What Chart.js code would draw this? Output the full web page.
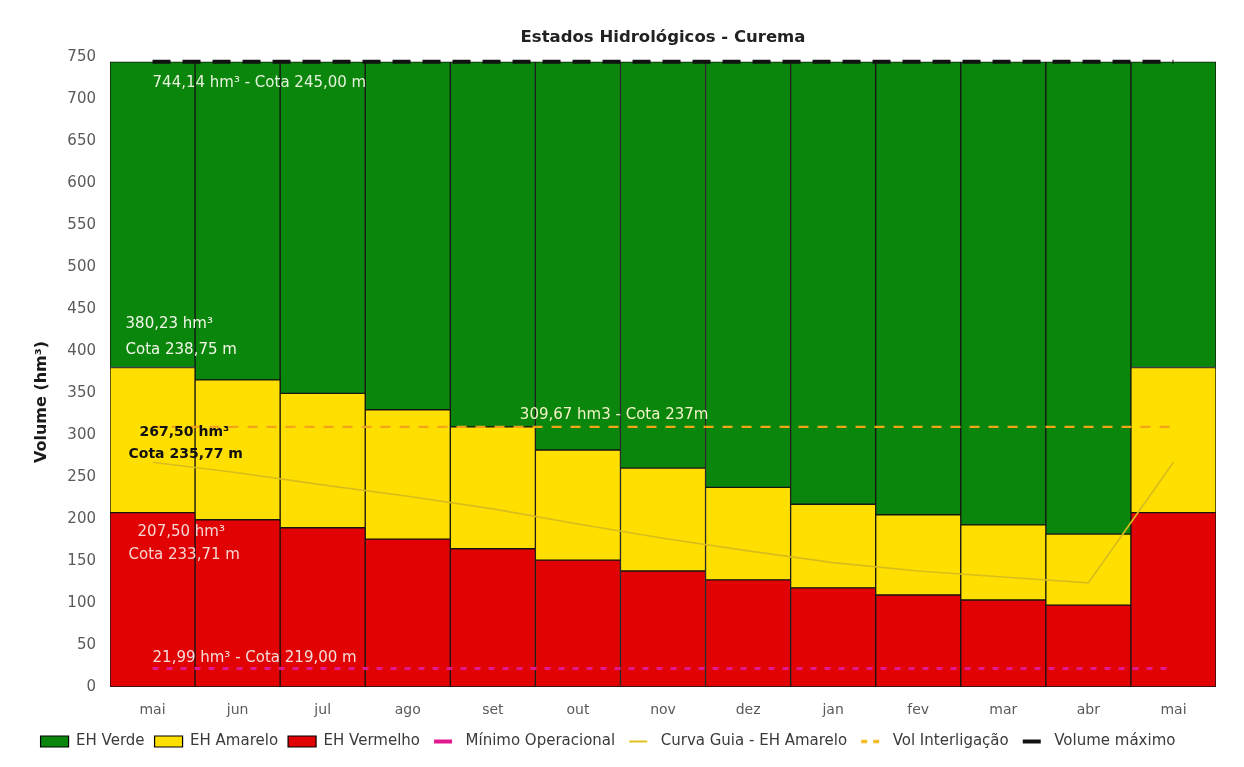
<!DOCTYPE html>
<html><head><meta charset="utf-8">
<script src="https://cdn.jsdelivr.net/npm/chart.js@4.4.1/dist/chart.umd.min.js"></script>
<style>html,body{margin:0;padding:0;background:#fff;} #wrap{width:1244px;height:767px;position:relative;}</style>
</head><body><div id="wrap"><canvas id="c"></canvas></div>
<script>
// ---- data ----
const meses = ['mai','jun','jul','ago','set','out','nov','dez','jan','fev','mar','abr','mai'];
const limiteVermelho = [207.5, 199, 189.5, 176, 164.5, 151, 138, 127.5, 118, 109.5, 103.5, 97.5, 207.5];
const limiteAmarelo  = [380.23, 365.5, 349.5, 330, 309.5, 282, 260.5, 237.5, 217.5, 205, 193, 182, 380.23];
const volumeMaximo   = [744.14, 744.14, 744.14, 744.14, 744.14, 744.14, 744.14, 744.14, 744.14, 744.14, 744.14, 744.14, 744.14];
const minimoOperacional = [21.99, 21.99, 21.99, 21.99, 21.99, 21.99, 21.99, 21.99, 21.99, 21.99, 21.99, 21.99, 21.99];
const curvaGuia      = [267.5, 255, 240.5, 227, 212, 194, 177, 162, 148, 138, 131, 124, 267.5];
const volInterligacao = [309.67, 309.67, 309.67, 309.67, 309.67, 309.67, 309.67, 309.67, 309.67, 309.67, 309.67, 309.67, 309.67];
const yMin = 0, yMax = 750, yStep = 50;
const legendOrder = ['EH Verde','EH Amarelo','EH Vermelho','Mínimo Operacional','Curva Guia - EH Amarelo','Vol Interligação','Volume máximo'];
// annotation texts: [text, anchor value]
const notas = [
  ['744,14 hm³ - Cota 245,00 m', 744.14],
  ['380,23 hm³', 380.23],
  ['Cota 238,75 m', 380.23],
  ['309,67 hm3 - Cota 237m', 309.67],
  ['267,50 hm³', 267.5],
  ['Cota 235,77 m', 267.5],
  ['207,50 hm³', 207.5],
  ['Cota 233,71 m', 207.5],
  ['21,99 hm³ - Cota 219,00 m', 21.99]
];

// segments for the stacked bars
const segVermelho = limiteVermelho.slice();
const segAmarelo = limiteAmarelo.map((v, i) => v - limiteVermelho[i]);
const segVerde = volumeMaximo.map((v, i) => v - limiteAmarelo[i]);

const FONT = "'DejaVu Sans', 'Liberation Sans', sans-serif";

// style for each note: category index, dx from category center, dy px from value, color, bold
const notaStyle = [
  {i:0, dx:0,   dy:21,  c:'#e6f3dc', b:false},
  {i:0, dx:-27, dy:-43, c:'#f2f7ea', b:false},
  {i:0, dx:-27, dy:-17, c:'#f2f7ea', b:false},
  {i:4, dx:27,  dy:-12, c:'#f3f3c8', b:false},
  {i:0, dx:-13, dy:-30, c:'#111111', b:true},
  {i:0, dx:-24, dy:-8,  c:'#111111', b:true},
  {i:0, dx:-15, dy:19,  c:'#f6d6d2', b:false},
  {i:0, dx:-24, dy:42,  c:'#f6d6d2', b:false},
  {i:0, dx:0,   dy:-10, c:'#f4dcdc', b:false}
];

const notesPlugin = {
  id: 'notes',
  afterDatasetsDraw(chart) {
    const ctx = chart.ctx, xs = chart.scales.x, ys = chart.scales.y;
    ctx.save();
    ctx.textBaseline = 'middle';
    ctx.textAlign = 'left';
    notas.forEach((n, k) => {
      const s = notaStyle[k];
      ctx.font = (s.b ? 'bold 14px ' : '15px ') + FONT;
      ctx.fillStyle = s.c;
      ctx.fillText(n[0], xs.getPixelForValue(s.i) + s.dx, ys.getPixelForValue(n[1]) + s.dy);
    });
    // y axis title
    ctx.translate(42, 402);
    ctx.rotate(-Math.PI / 2);
    ctx.textAlign = 'center';
    ctx.font = 'bold 16px ' + FONT;
    ctx.fillStyle = '#1a1a1a';
    ctx.fillText('Volume (hm³)', 0, 0);
    ctx.restore();
  }
};

// small legend swatch for line series (short dash, 28px slot)
function lineSwatch(color, width, dash) {
  const c = document.createElement('canvas');
  c.width = 28; c.height = 8;
  const g = c.getContext('2d');
  g.strokeStyle = color; g.lineWidth = width;
  g.setLineDash(dash || []);
  g.beginPath(); g.moveTo(4, 4); g.lineTo(22, 4); g.stroke();
  return c;
}

const barBase = {type:'bar', borderColor:'#151515', borderWidth:1, borderSkipped:false, barPercentage:1, categoryPercentage:1, stack:'barras', order:1};
const lineBase = {type:'line', pointRadius:0, pointHoverRadius:0, fill:false, tension:0, order:0};

const datasets = [
  Object.assign({}, barBase, {label:'EH Vermelho', data:segVermelho, backgroundColor:'#e10303'}),
  Object.assign({}, barBase, {label:'EH Amarelo', data:segAmarelo, backgroundColor:'#ffdf00'}),
  Object.assign({}, barBase, {label:'EH Verde', data:segVerde, backgroundColor:'#0b860c'}),
  Object.assign({}, lineBase, {label:'Mínimo Operacional', stack:'l1', data:minimoOperacional, borderColor:'#e2188f', borderWidth:3, borderDash:[6,8]}),
  Object.assign({}, lineBase, {label:'Curva Guia - EH Amarelo', stack:'l2', data:curvaGuia, borderColor:'#d9bd1c', borderWidth:1.6}),
  Object.assign({}, lineBase, {label:'Vol Interligação', stack:'l3', data:volInterligacao, borderColor:'#f2a516', borderWidth:2.2, borderDash:[10,9]}),
  Object.assign({}, lineBase, {label:'Volume máximo', stack:'l4', data:volumeMaximo, borderColor:'#111111', borderWidth:4, borderDash:[18,12]})
];
const swatches = {
  'Mínimo Operacional': lineSwatch('#e2188f', 4),
  'Curva Guia - EH Amarelo': lineSwatch('#e0c21c', 2),
  'Vol Interligação': lineSwatch('#f2b000', 3, [6,6]),
  'Volume máximo': lineSwatch('#111111', 4)
};

new Chart(document.getElementById('c'), {
  data: {labels: meses, datasets: datasets},
  options: {
    responsive: true,
    maintainAspectRatio: false,
    animation: false,
    layout: {padding: {left: 0, right: 28, top: 0, bottom: 8}},
    scales: {
      x: {
        stacked: true,
        grid: {display:false, drawTicks:false},
        border: {display:false},
        ticks: {color:'#5a5a5a', font:{family:FONT, size:14}, padding:15},
        afterFit(scale) { scale.height = 37; }
      },
      y: {
        stacked: true,
        min: yMin, max: yMax,
        grid: {display:false, drawTicks:false},
        border: {display:false},
        ticks: {stepSize: yStep, color:'#5a5a5a', font:{family:FONT, size:15}, padding:14},
        afterFit(scale) { scale.width = 110; }
      }
    },
    plugins: {
      tooltip: {enabled:false},
      title: {
        display: true,
        text: 'Estados Hidrológicos - Curema',
        fullSize: false,
        color: '#222222',
        font: {family:FONT, size:16.5, weight:'bold'},
        padding: {top: 28, bottom: 9}
      },
      legend: {
        position: 'bottom',
        labels: {
          color: '#3a3a3a',
          font: {family:FONT, size:15},
          usePointStyle: true,
          boxHeight: 11,
          boxWidth: 28,
          pointStyleWidth: 28,
          padding: 10,
          sort: (a, b) => legendOrder.indexOf(a.text) - legendOrder.indexOf(b.text),
          generateLabels(chart) {
            return chart.data.datasets.map((ds, i) => {
              const isBar = ds.type === 'bar';
              return {
                text: ds.label,
                datasetIndex: i,
                fillStyle: isBar ? ds.backgroundColor : ds.borderColor,
                strokeStyle: isBar ? '#000000' : ds.borderColor,
                lineWidth: isBar ? 1.2 : 0,
                pointStyle: isBar ? 'rect' : swatches[ds.label],
                fontColor: '#3a3a3a',
                hidden: false
              };
            });
          }
        }
      }
    }
  },
  plugins: [notesPlugin]
});
</script>
</body></html>
